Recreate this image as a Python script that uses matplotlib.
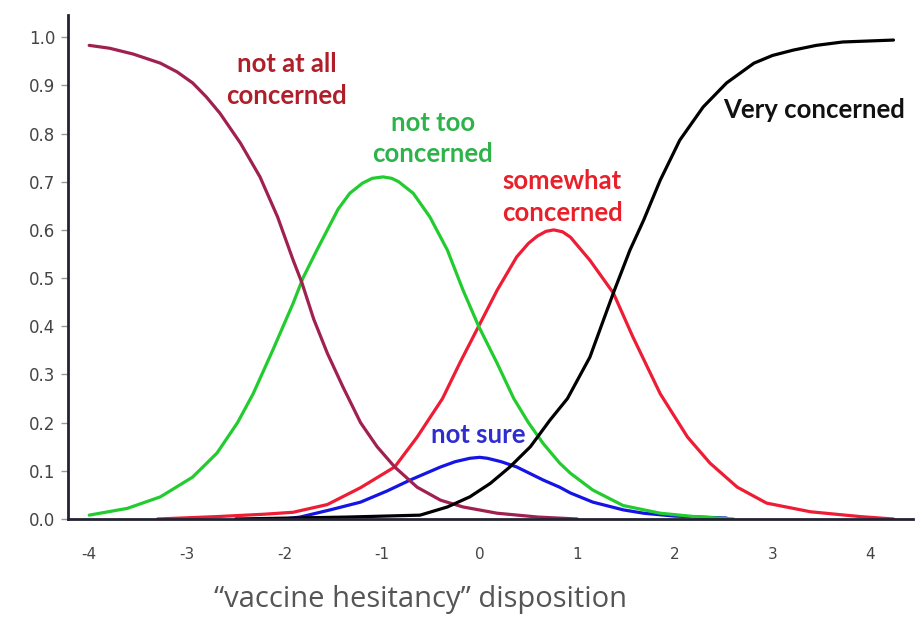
import matplotlib
matplotlib.use("Agg")
import matplotlib.pyplot as plt

# --- data ---
x_not_at_all = [-4.0, -3.79, -3.55, -3.27, -3.1, -2.94, -2.8, -2.66, -2.45, -2.25, -2.07, -1.91, -1.82,
                -1.7, -1.56, -1.40, -1.22, -1.05, -0.87, -0.64, -0.40, -0.17, 0.18, 0.6, 1.0]
y_not_at_all = [0.983, 0.977, 0.965, 0.946, 0.928, 0.905, 0.876, 0.842, 0.78, 0.71, 0.627, 0.537, 0.49,
                0.415, 0.344, 0.274, 0.20, 0.15, 0.108, 0.066, 0.039, 0.025, 0.012, 0.004, 0.0]

x_not_too = [-4.0, -3.61, -3.27, -2.94, -2.69, -2.48, -2.32, -2.12, -1.91, -1.81, -1.68, -1.56,
             -1.45, -1.33, -1.2, -1.1, -0.99, -0.9, -0.83, -0.68, -0.51, -0.33, -0.17, -0.01, 0.18, 0.35,
             0.5, 0.65, 0.82, 0.93, 1.16, 1.47, 1.85, 2.2, 2.6]
y_not_too = [0.008, 0.022, 0.046, 0.087, 0.137, 0.20, 0.26, 0.35, 0.448, 0.50, 0.553, 0.60,
             0.643, 0.676, 0.697, 0.707, 0.71, 0.707, 0.70, 0.676, 0.627, 0.558, 0.475, 0.40, 0.323, 0.25,
             0.20, 0.157, 0.116, 0.095, 0.06, 0.028, 0.012, 0.005, 0.0]

x_somewhat = [-3.3, -2.69, -2.2, -1.91, -1.56, -1.22, -0.87, -0.64, -0.38, -0.2, -0.01, 0.18, 0.38,
              0.5, 0.59, 0.68, 0.76, 0.85, 0.93, 1.13, 1.37, 1.57, 1.85, 2.13, 2.36, 2.64, 2.94, 3.39, 3.9, 4.24]
y_somewhat = [0.0, 0.005, 0.01, 0.014, 0.03, 0.065, 0.108, 0.17, 0.25, 0.325, 0.40, 0.475, 0.544,
              0.572, 0.587, 0.597, 0.60, 0.596, 0.585, 0.537, 0.469, 0.378, 0.26, 0.17, 0.116, 0.066, 0.033,
              0.015, 0.005, 0.0]

x_not_sure = [-2.0, -1.84, -1.53, -1.22, -0.95, -0.71, -0.40, -0.25, -0.10, 0.0, 0.08, 0.22, 0.38, 0.65,
              0.82, 0.93, 1.16, 1.47, 1.68, 2.0, 2.53]
y_not_sure = [0.0, 0.004, 0.019, 0.035, 0.058, 0.081, 0.108, 0.119, 0.126, 0.128, 0.126, 0.119, 0.108, 0.081,
              0.066, 0.054, 0.035, 0.019, 0.012, 0.006, 0.002]

x_very = [-2.5, -1.36, -0.61, -0.33, -0.1, 0.11, 0.31, 0.52, 0.72, 0.9, 1.13, 1.37, 1.54,
          1.68, 1.85, 2.05, 2.29, 2.53, 2.81, 3.0, 3.21, 3.45, 3.72, 4.24]
y_very = [0.0, 0.004, 0.008, 0.025, 0.046, 0.074, 0.108, 0.15, 0.205, 0.25, 0.336, 0.469, 0.558,
          0.62, 0.703, 0.786, 0.855, 0.905, 0.946, 0.962, 0.973, 0.983, 0.99, 0.994]

x_ticks = [-4, -3, -2, -1, 0, 1, 2, 3, 4]
x_ticklabels = ["-4", "-3", "-2", "-1", "0", "1", "2", "3", "4"]
y_ticks = [0.0, 0.1, 0.2, 0.3, 0.4, 0.5, 0.6, 0.7, 0.8, 0.9, 1.0]
y_ticklabels = ["0.0", "0.1", "0.2", "0.3", "0.4", "0.5", "0.6", "0.7", "0.8", "0.9", "1.0"]

fig = plt.figure(figsize=(9.16, 6.24), dpi=100)
ax = fig.add_axes([68 / 916, 1 - 519 / 624, (913 - 68) / 916, (519 - 15) / 624])

lw = 2.3
ax.plot(x_not_sure, y_not_sure, color="#1414E6", lw=lw, solid_capstyle="round")
ax.plot(x_somewhat, y_somewhat, color="#EE1C34", lw=lw, solid_capstyle="round")
ax.plot(x_not_too, y_not_too, color="#22CC2E", lw=lw, solid_capstyle="round")
ax.plot(x_not_at_all, y_not_at_all, color="#A02050", lw=lw, solid_capstyle="round")
ax.plot(x_very, y_very, color="#000000", lw=lw, solid_capstyle="round")

ax.set_xlim(-4.217, 4.44)
ax.set_ylim(0, 1.046)

for s in ["top", "right"]:
    ax.spines[s].set_visible(False)
for s in ["left", "bottom"]:
    ax.spines[s].set_color("#222233")
    ax.spines[s].set_linewidth(2)

ax.set_xticks(x_ticks)
ax.set_xticklabels(x_ticklabels)
ax.set_yticks(y_ticks)
ax.set_yticklabels(y_ticklabels)
ax.tick_params(axis="x", length=0, pad=20, labelsize=11, labelcolor="#444444")
ax.tick_params(axis="y", length=5, width=1, color="#999999", pad=4, labelsize=12, labelcolor="#444444")

lab_font = "Lato"
fs = 18.5
ls = 1.38
ax.text(-1.98, 0.911, "not at all\nconcerned", color="#B01E2A", fontsize=fs, fontweight="bold",
        ha="center", va="center", family=lab_font, linespacing=ls)
ax.text(-0.48, 0.79, "not too\nconcerned", color="#2DB34A", fontsize=fs, fontweight="bold",
        ha="center", va="center", family=lab_font, linespacing=ls)
ax.text(0.845, 0.668, "somewhat\nconcerned", color="#E8202A", fontsize=fs, fontweight="bold",
        ha="center", va="center", family=lab_font, linespacing=ls)
ax.text(2.5, 0.849, "Very concerned", color="#111111", fontsize=fs, fontweight="bold",
        ha="left", va="center", family=lab_font)
ax.text(-0.015, 0.174, "not sure", color="#2E2ED0", fontsize=fs, fontweight="bold",
        ha="center", va="center", family=lab_font)

fig.text(421 / 916, 1 - 600 / 624, "\u201cvaccine hesitancy\u201d disposition", color="#555555",
         fontsize=21, ha="center", va="center", family="Open Sans")

fig.savefig("out.png", dpi=100)
